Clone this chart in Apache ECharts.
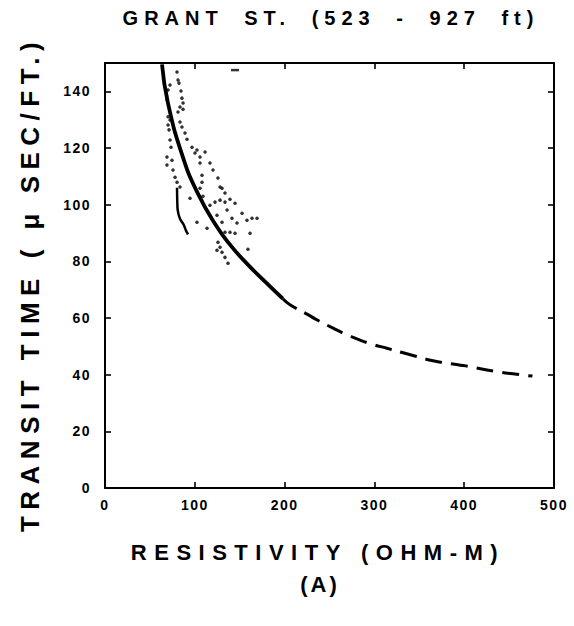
<!DOCTYPE html>
<html>
<head>
<meta charset="utf-8">
<script src="https://cdn.jsdelivr.net/npm/echarts@6/dist/echarts.min.js"></script>
<style>
html,body{margin:0;padding:0;background:#ffffff;}
#chart{width:574px;height:626px;}
</style>
</head>
<body>
<div id="chart"></div>
<script>
// ---- tick labels ----
const xTickValues = [0, 100, 200, 300, 400, 500];
const xTickLabels = ['0', '100', '200', '300', '400', '500'];
const yTickValues = [0, 20, 40, 60, 80, 100, 120, 140];
const yTickLabels = ['0', '20', '40', '60', '80', '100', '120', '140'];

// ---- texts ----
const titleText = 'GRANT ST. (523 - 927 ft)';
const xAxisTitle = 'RESISTIVITY (OHM-M)';
const yAxisTitle = 'TRANSIT TIME ( μ SEC/FT.)';
const panelLabel = '(A)';

// ---- solid fitted curve (resistivity, transit time) ----
const solidCurve = [
  [63.5, 149.5], [70, 136], [86, 117.5], [102.5, 104.5], [125, 92],
  [141, 85.2], [158, 79.2], [180, 72.3], [198, 66.8]
];

// ---- dashed extrapolated curve ----
const dashedCurve = [
  [198, 66.8], [206, 64.7], [226, 61.2], [234, 59.7], [254, 56.4], [265, 54.7],
  [284, 52.2], [297, 50.8], [314, 49.3], [331, 47.8], [347, 46.4], [361, 45.2],
  [376, 44.3], [393, 43.5], [409, 42.7], [421, 41.9], [434, 41.2], [454, 40.3],
  [476, 39.5]
];

// ---- measured log points ----
const logPoints = [
  [80.2, 146.8], [81.3, 144], [82.4, 142.9], [84.6, 140.1], [85.7, 137.6],
  [86.9, 135.9], [83.5, 134.5], [81.3, 132.7], [86.9, 133.7], [72.4, 142.2],
  [70.2, 140.5], [69, 137], [70.2, 131], [72.4, 129.9], [70.2, 128.1],
  [71.3, 126.4], [72.4, 122.8], [73.5, 120.3], [83.5, 129.2], [85.7, 127.4],
  [89.1, 125.3], [91.3, 123.1], [96.9, 120.3], [102.4, 119.3], [100.2, 118.2],
  [105.8, 116.8], [111.4, 118.6], [69, 116.8], [74.6, 115.7], [69, 114.0],
  [75.7, 112.2], [78, 109.7], [80.2, 107.9], [83.5, 106.2], [105.8, 114.7],
  [116.9, 114.7], [120.3, 112.2], [108, 110.4], [108, 107.9], [105.8, 105.8],
  [109.1, 103], [125.8, 109.4], [128.1, 106.2], [130.3, 105.8], [133.6, 104.1],
  [116.9, 99.8], [122.5, 100.9], [128.1, 101.6], [133.6, 100.9], [139.2, 101.9],
  [144.8, 100.5], [94.7, 102.3], [124.7, 96.3], [130.3, 93.8], [135.9, 98.1],
  [141.4, 95.2], [147, 93.5], [152.6, 97], [158.1, 94.5], [163.7, 95.2],
  [169.3, 95.2], [102.4, 93.8], [113.6, 91.7], [133.6, 90.3], [139.2, 90.3],
  [144.8, 89.9], [161.5, 89.9], [125.8, 86.7], [128.1, 85], [124.7, 83.9],
  [130.3, 83.2], [133.6, 81.4], [137, 79.3], [159.2, 84.3]
];

// ---- short continuous branch of log trace ----
const branchTrace = [
  [80.2, 106], [80.5, 101], [81, 98], [83.5, 95], [87.5, 93], [90, 91], [92.5, 89.5]
];

// ---- isolated mark near top ----
const strayMark = [[144.8, 147.5]];

const FONT = '"Liberation Sans", Arial, Helvetica, sans-serif';

function xLabel(v) { const i = xTickValues.indexOf(v); return i >= 0 ? xTickLabels[i] : ''; }
function yLabel(v) { const i = yTickValues.indexOf(v); return i >= 0 ? yTickLabels[i] : ''; }

const axisLineStyle = { color: '#000', width: 2 };
const tickStyle = { show: true, inside: true, length: 6, lineStyle: { color: '#000', width: 1.6 } };

const chart = echarts.init(document.getElementById('chart'), null, { renderer: 'svg' });

const option = {
  backgroundColor: '#ffffff',
  animation: false,
  grid: { left: 105, right: 20, top: 63, bottom: 138, containLabel: false },
  xAxis: [
    {
      type: 'value', position: 'bottom', min: 0, max: 500, interval: 100,
      axisLine: { show: true, onZero: false, lineStyle: axisLineStyle },
      axisTick: tickStyle,
      splitLine: { show: false },
      axisLabel: {
        show: true, margin: 10, color: '#000', fontSize: 14, fontWeight: 'bold',
        fontFamily: FONT, formatter: xLabel
      }
    },
    {
      type: 'value', position: 'top', min: 0, max: 500, interval: 100,
      axisLine: { show: true, onZero: false, lineStyle: axisLineStyle },
      axisTick: tickStyle,
      splitLine: { show: false },
      axisLabel: { show: false }
    }
  ],
  yAxis: [
    {
      type: 'value', position: 'left', min: 0, max: 150, interval: 20,
      axisLine: { show: true, onZero: false, lineStyle: axisLineStyle },
      axisTick: tickStyle,
      splitLine: { show: false },
      axisLabel: {
        show: true, margin: 14, color: '#000', fontSize: 14, fontWeight: 'bold',
        fontFamily: FONT, formatter: yLabel, showMaxLabel: false
      }
    },
    {
      type: 'value', position: 'right', min: 0, max: 150, interval: 20,
      axisLine: { show: true, onZero: false, lineStyle: axisLineStyle },
      axisTick: tickStyle,
      splitLine: { show: false },
      axisLabel: { show: false }
    }
  ],
  graphic: [
    {
      type: 'text', x: 331, y: 18, silent: true,
      style: {
        text: titleText, font: 'bold 20px ' + FONT, fill: '#000',
        align: 'center', verticalAlign: 'middle', textAlign: 'center', textVerticalAlign: 'middle'
      }
    },
    {
      type: 'text', x: 318, y: 552, silent: true,
      style: {
        text: xAxisTitle, font: 'bold 22px ' + FONT, fill: '#000',
        align: 'center', verticalAlign: 'middle', textAlign: 'center', textVerticalAlign: 'middle'
      }
    },
    {
      type: 'text', x: 320, y: 584, silent: true,
      style: {
        text: panelLabel, font: 'bold 22px ' + FONT, fill: '#000',
        align: 'center', verticalAlign: 'middle', textAlign: 'center', textVerticalAlign: 'middle'
      }
    },
    {
      type: 'text', x: 30, y: 284, rotation: Math.PI / 2, silent: true,
      style: {
        text: yAxisTitle, font: 'bold 26px ' + FONT, fill: '#000',
        align: 'center', verticalAlign: 'middle', textAlign: 'center', textVerticalAlign: 'middle'
      }
    }
  ],
  series: [
    {
      name: 'fit', type: 'line', xAxisIndex: 0, yAxisIndex: 0,
      data: solidCurve, smooth: 0.5, showSymbol: false, symbol: 'none',
      lineStyle: { color: '#000', width: 3.8 }, z: 5
    },
    {
      name: 'extrapolated', type: 'line', xAxisIndex: 0, yAxisIndex: 0,
      data: dashedCurve, smooth: 0.5, showSymbol: false, symbol: 'none',
      lineStyle: { color: '#000', width: 3, type: [17, 9] }, z: 5
    },
    {
      name: 'branch', type: 'line', xAxisIndex: 0, yAxisIndex: 0,
      data: branchTrace, smooth: 0.3, showSymbol: false, symbol: 'none',
      lineStyle: { color: '#000', width: 2.5 }, z: 4
    },
    {
      name: 'log', type: 'scatter', xAxisIndex: 0, yAxisIndex: 0,
      data: logPoints, symbol: 'circle', symbolSize: 3.5,
      itemStyle: { color: '#000' }, z: 4
    },
    {
      name: 'mark', type: 'scatter', xAxisIndex: 0, yAxisIndex: 0,
      data: strayMark, symbol: 'rect', symbolSize: [8, 2.5],
      itemStyle: { color: '#000' }, z: 4
    }
  ]
};

chart.setOption(option);

const spacingMap = {};
spacingMap[titleText] = [6, 9];
spacingMap[xAxisTitle] = [7.5, 0];
spacingMap[panelLabel] = [3, 0];
spacingMap[yAxisTitle] = [6.5, 0];

function applySpacing() {
  document.querySelectorAll('#chart svg text').forEach(function (t) {
    const c = t.textContent;
    const m = spacingMap[c];
    if (m) {
      t.setAttribute('letter-spacing', m[0]);
      t.setAttribute('word-spacing', m[1]);
    } else {
      t.setAttribute('letter-spacing', 1.5);
    }
  });
}
applySpacing();
chart.on('finished', applySpacing);
setTimeout(applySpacing, 50);
</script>
</body>
</html>
